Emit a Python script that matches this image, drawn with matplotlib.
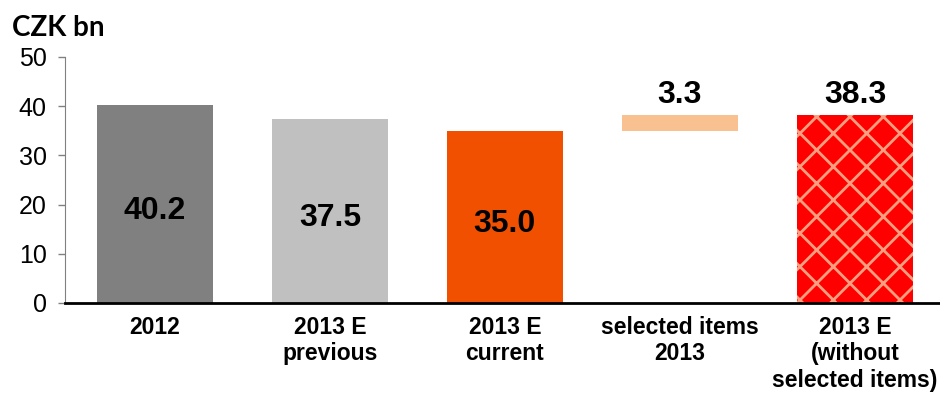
import matplotlib.pyplot as plt
import numpy as np

plt.rcParams['font.family'] = ['Liberation Sans', 'DejaVu Sans']
plt.rcParams['hatch.linewidth'] = 2.0

# Data
categories = ['2012', '2013 E\nprevious', '2013 E\ncurrent', 'selected items\n2013',
              '2013 E\n(without\nselected items)']
values = [40.2, 37.5, 35.0, 3.3, 38.3]
bottoms = [0, 0, 0, 35.0, 0]
labels = ['40.2', '37.5', '35.0', '3.3', '38.3']
colors = ['#808080', '#C0C0C0', '#F05000', '#F9C18F', '#FF0000']

fig = plt.figure(figsize=(9.4, 4), dpi=100)
ax = fig.add_axes([0.069, 0.2425, 0.931, 0.615])

x = np.arange(len(categories))
bars = ax.bar(x, values, bottom=bottoms, width=0.66, color=colors, linewidth=0)

# hatched last bar
bars[-1].set_hatch('x')
bars[-1].set_edgecolor('#FF9F80')

# value labels: inside the first three bars, above the others
for i in range(len(values)):
    if i < 3:
        ax.text(x[i], values[i] / 2 - 1.5, labels[i], ha='center', va='center',
                fontsize=23, fontweight='bold', color='black')
    else:
        ax.annotate(labels[i], (x[i], bottoms[i] + values[i]), xytext=(0, 3),
                    textcoords='offset points', ha='center', va='bottom',
                    fontsize=23, fontweight='bold', color='black')

ax.set_xlim(-0.514, 4.486)
ax.set_ylim(0, 50)
ax.set_yticks([0, 10, 20, 30, 40, 50])
ax.set_xticks(x)
ax.set_xticklabels(categories, fontsize=16.5, fontweight='bold', linespacing=1.2)

ax.tick_params(axis='y', labelsize=18, color='#808080', length=5, width=1, pad=8)
ax.tick_params(axis='x', length=0, pad=9)

ax.spines['top'].set_visible(False)
ax.spines['right'].set_visible(False)
ax.spines['left'].set_color('#808080')
ax.spines['bottom'].set_color('black')
ax.spines['bottom'].set_linewidth(2)

fig.text(0.013, 0.91, 'CZK bn', fontsize=20, fontweight='bold', family=['Lato', 'DejaVu Sans'])

fig.savefig('out.png', dpi=100)
